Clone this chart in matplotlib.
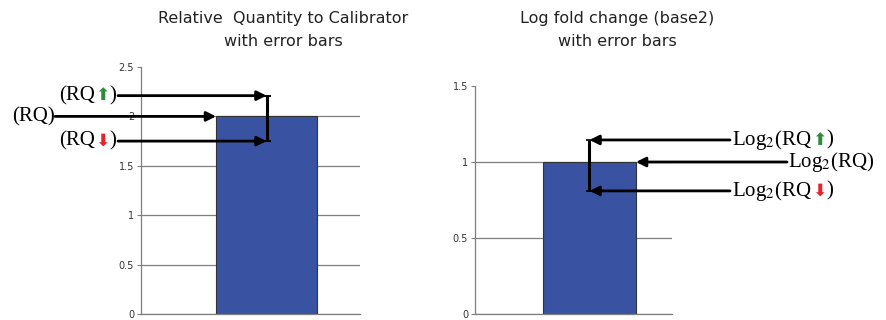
import matplotlib
matplotlib.use('Agg')
import matplotlib.pyplot as plt
from matplotlib.offsetbox import TextArea, HPacker, AnnotationBbox

plt.rcParams['mathtext.fontset'] = 'stix'

# data
rq = [2.0]
rq_up = 2.21
rq_down = 1.75
log_rq = [1.0]
log_up = 1.145
log_down = 0.81

left_ticks = [0, 0.5, 1, 1.5, 2, 2.5]
right_ticks = [0, 0.5, 1, 1.5]

bar_color = '#3953a2'
grid_color = '#7f7f7f'
green = '#2e8b3c'
red = '#e8232b'

W, H = 886, 320
fig = plt.figure(figsize=(W / 100, H / 100), dpi=100)

def px_axes(x0, x1, ytop, ybot):
    return fig.add_axes([x0 / W, 1 - ybot / H, (x1 - x0) / W, (ybot - ytop) / H])

def style_axis(ax, ticks):
    ax.set_ylim(0, ticks[-1])
    ax.set_yticks(ticks)
    ax.set_yticklabels([('%g' % t) for t in ticks])
    ax.set_xticks([])
    ax.yaxis.grid(True, color=grid_color, lw=0.9)
    ax.yaxis.get_gridlines()[-1].set_visible(False)  # no line at the top tick
    ax.set_axisbelow(True)
    for s in ['top', 'right']:
        ax.spines[s].set_visible(False)
    for s in ['left', 'bottom']:
        ax.spines[s].set_color(grid_color)
        ax.spines[s].set_linewidth(0.9)
    ax.tick_params(axis='y', length=3, width=0.8, color=grid_color,
                   labelsize=7, labelcolor='#333333', pad=2)

def label(ax, parts, x_px, y, align):
    boxes = [TextArea(t, textprops=dict(color=c, fontsize=fs, family=fam,
                                        fontweight=fw))
             for t, c, fs, fam, fw in parts]
    pack = HPacker(children=boxes, align='baseline', pad=0, sep=0)
    ab = AnnotationBbox(pack, (x_px, y), xycoords=('figure pixels', 'data'),
                        box_alignment=(align, 0.5), frameon=False, pad=0,
                        annotation_clip=False)
    ax.add_artist(ab)

def arrow(ax, x_tip, y, x_tail_px):
    ax.annotate('', xy=(x_tip, y), xycoords='data',
                xytext=(x_tail_px, y), textcoords=('figure pixels', 'data'),
                arrowprops=dict(arrowstyle='-|>', lw=2, color='black',
                                shrinkA=0, shrinkB=0, mutation_scale=14),
                annotation_clip=False, zorder=5)

serif = 'Liberation Serif'
sans = 'DejaVu Sans'
up = ('\u2b06', green, 12.5, sans, 'normal')
down = ('\u2b07', red, 12.5, sans, 'normal')

# ---- left chart: relative quantity
ax1 = px_axes(141, 360, 67, 314)
ax1.bar([0], rq, width=1, color=bar_color, edgecolor='#333333', lw=0.8, zorder=2)
ax1.errorbar([0], rq, yerr=[[rq[0] - rq_down], [rq_up - rq[0]]], fmt='none',
             ecolor='black', elinewidth=2.2, capsize=3, capthick=1.5, zorder=4)
ax1.set_xlim(-1.243, 0.926)
style_axis(ax1, left_ticks)

arrow(ax1, 0, rq_up, 118)
arrow(ax1, -0.5, rq[0], 55)
arrow(ax1, 0, rq_down, 118)
label(ax1, [('(RQ', 'black', 15, serif, 'normal'), up,
            (')', 'black', 15, serif, 'normal')], 116, rq_up, 1)
label(ax1, [('(RQ)', 'black', 15, serif, 'normal')], 55, rq[0], 1)
label(ax1, [('(RQ', 'black', 15, serif, 'normal'), down,
            (')', 'black', 15, serif, 'normal')], 116, rq_down, 1)

# ---- right chart: log2 fold change
ax2 = px_axes(475, 672, 86, 314)
ax2.bar([0], log_rq, width=1, color=bar_color, edgecolor='#333333', lw=0.8, zorder=2)
ax2.errorbar([0], log_rq, yerr=[[log_rq[0] - log_down], [log_up - log_rq[0]]],
             fmt='none', ecolor='black', elinewidth=2.2, capsize=2, capthick=1.2,
             zorder=4)
ax2.set_xlim(-1.231, 0.887)
style_axis(ax2, right_ticks)

arrow(ax2, 0, log_up, 730)
arrow(ax2, 0.5, log_rq[0], 787)
arrow(ax2, 0, log_down, 730)
label(ax2, [('Log$_2$(RQ', 'black', 15, serif, 'normal'), up,
            (')', 'black', 15, serif, 'normal')], 732, log_up, 0)
label(ax2, [('Log$_2$(RQ)', 'black', 15, serif, 'normal')], 788, log_rq[0], 0)
label(ax2, [('Log$_2$(RQ', 'black', 15, serif, 'normal'), down,
            (')', 'black', 15, serif, 'normal')], 732, log_down, 0)

# titles
fig.text(283 / W, 1 - 30 / H, 'Relative  Quantity to Calibrator\nwith error bars',
         ha='center', va='center', fontsize=11.5, color='#222222', linespacing=1.75)
fig.text(617 / W, 1 - 30 / H, 'Log fold change (base2)\nwith error bars',
         ha='center', va='center', fontsize=11.5, color='#222222', linespacing=1.75)

fig.savefig('out.png', dpi=100)
